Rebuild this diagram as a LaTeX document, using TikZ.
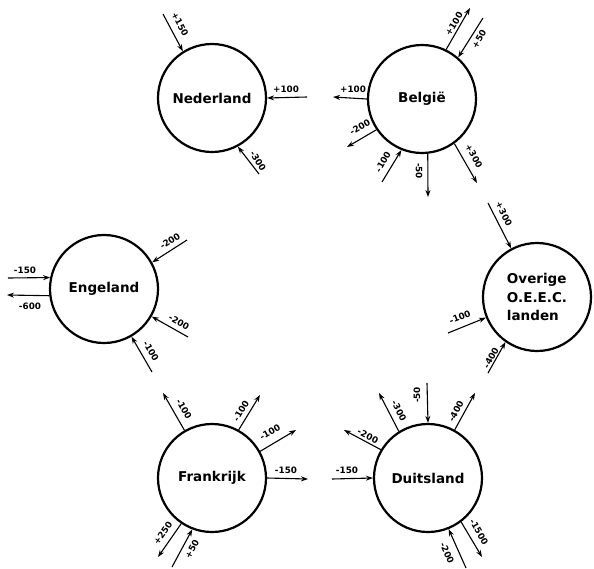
\documentclass[tikz,border=0pt]{standalone}
\usepackage{fontspec}
\setmainfont{DejaVu Sans}
\usetikzlibrary{arrows.meta}
\tikzset{
  land/.style={circle, draw, line width=2.2pt, minimum size=108pt, inner sep=0pt,
    font=\fontsize{13.5}{18.5}\selectfont\bfseries},
  flow/.style={-{Stealth[length=7pt,width=5pt]}, line width=1.1pt},
  lab/.style={font=\fontsize{8.8}{9}\selectfont\bfseries, inner sep=0pt}
}
\begin{document}
\begin{tikzpicture}[x=1pt,y=-1pt]
\useasboundingbox (0,0) rectangle (594,568);
% countries
\node[land] (N) at (212,98) {Nederland};
\node[land] (B) at (422,99) {België};
\node[land] (E) at (104,289) {Engeland};
\node[land, align=left] (O) at (537,297) {Overige\\O.E.E.C.\\landen};
\node[land] (F) at (212,478) {Frankrijk};
\node[land] (D) at (428,478) {Duitsland};
% Nederland
\draw[flow] (163,14) -- (N.122);
\node[lab, rotate=-62] at (180,24) {+150};
\draw[flow] (307,97) -- (N.0);
\node[lab] at (286,89) {+100};
\draw[flow] (259,174) -- (N.298);
\node[lab, rotate=-59] at (258,161) {-300};
% Belgie
\draw[flow] (B.64) -- (470,8);
\node[lab, rotate=59] at (454,24) {+100};
\draw[flow] (483,18) -- (B.49);
\node[lab, rotate=60] at (479,39) {+50};
\draw[flow] (B.180) -- (333,97);
\node[lab] at (353,89) {+100};
\draw[flow] (B.214) -- (347,147);
\node[lab, rotate=31] at (360,127) {-200};
\draw[flow] (382,182) -- (B.248);
\node[lab, rotate=60] at (383,162) {-100};
\draw[flow] (B.276) -- (428,197);
\node[lab, rotate=-90] at (419,171) {-50};
\draw[flow] (B.306) -- (477,183);
\node[lab, rotate=-61] at (474,156) {+300};
% Engeland
\draw[flow] (8,278) -- (E.168);
\node[lab] at (25,270) {-150};
\draw[flow] (E.187) -- (7,295);
\node[lab] at (30,306) {-600};
\draw[flow] (187,240) -- (E.29);
\node[lab, rotate=33] at (170,241) {-200};
\draw[flow] (188,337) -- (E.330);
\node[lab, rotate=-29] at (179,322) {-200};
\draw[flow] (152,372) -- (E.300);
\node[lab, rotate=-60] at (151,351) {-100};
% Overige
\draw[flow] (488,203) -- (O.118);
\node[lab, rotate=-63] at (504,214) {+300};
\draw[flow] (448,333) -- (O.202);
\node[lab, rotate=22] at (460,317) {-100};
\draw[flow] (488,373) -- (O.235);
\node[lab, rotate=60] at (491,358) {-400};
% Frankrijk
\draw[flow] (F.120) -- (163,393);
\node[lab, rotate=-60] at (184,409) {-100};
\draw[flow] (F.61) -- (260,395);
\node[lab, rotate=59] at (241,411) {-100};
\draw[flow] (F.29) -- (296,430);
\node[lab, rotate=30] at (270,432) {-100};
\draw[flow] (F.0) -- (308,479);
\node[lab] at (286,470) {-150};
\draw[flow] (F.236) -- (158,557);
\node[lab, rotate=55] at (163,533) {+250};
\draw[flow] (172,567) -- (F.249);
\node[lab, rotate=62] at (192,549) {+50};
% Duitsland
\draw[flow] (332,479) -- (D.180);
\node[lab] at (347,470) {-150};
\draw[flow] (D.149) -- (344,430);
\node[lab, rotate=-27] at (368,436) {-200};
\draw[flow] (D.122) -- (379,393);
\node[lab, rotate=-63] at (399,411) {-300};
\draw[flow] (427,383) -- (D.90);
\node[lab, rotate=90] at (417,395) {-50};
\draw[flow] (D.61) -- (475,393);
\node[lab, rotate=62] at (456,411) {-400};
\draw[flow] (D.307) -- (482,557);
\node[lab, rotate=-60] at (479,532) {-1500};
\draw[flow] (466,568) -- (D.292);
\node[lab, rotate=-66] at (447,553) {-200};
\end{tikzpicture}
\end{document}
